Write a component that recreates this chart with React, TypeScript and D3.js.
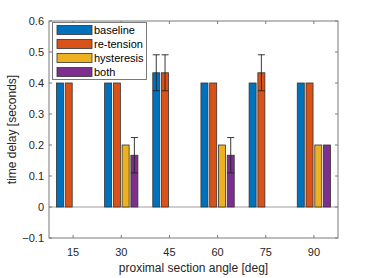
import { useEffect, useRef } from "react";
import * as d3 from "d3";

const categories = ["15", "30", "45", "60", "75", "90"];
const seriesNames = ["baseline", "re-tension", "hysteresis", "both"];
const seriesColors = ["#0072BD", "#D95319", "#EDB120", "#7E2F8E"];

const baseline = [0.4, 0.4, 0.433, 0.4, 0.4, 0.4];
const retension = [0.4, 0.4, 0.433, 0.4, 0.433, 0.4];
const hysteresis = [0, 0.2, 0, 0.2, 0, 0.2];
const both = [0, 0.167, 0, 0.167, 0, 0.2];

// error half-widths (0 = no error bar)
const baselineErr = [0, 0, 0.058, 0, 0, 0];
const retensionErr = [0, 0, 0.058, 0, 0.058, 0];
const hysteresisErr = [0, 0, 0, 0, 0, 0];
const bothErr = [0, 0.057, 0, 0.057, 0, 0];

const yTicks = [-0.1, 0, 0.1, 0.2, 0.3, 0.4, 0.5, 0.6];

const App = () => {
  const ref = useRef<SVGSVGElement>(null);
  const width = 374;
  const height = 278;

  useEffect(() => {
    if (!ref.current) return;
    const svg = d3.select(ref.current);
    svg.selectAll("*").remove();

    const left = 49;
    const right = 338;
    const top = 21;
    const bottom = 238;
    const font = "'Liberation Sans', Arial, Helvetica, sans-serif";
    const textColor = "#262626";
    const axisColor = "#7a7a7a";

    const values = [baseline, retension, hysteresis, both];
    const errs = [baselineErr, retensionErr, hysteresisErr, bothErr];

    const x = d3.scaleBand<string>().domain(categories).range([left, right]).padding(0);
    const groupWidth = x.bandwidth() * Math.min(0.8, 4 / 5.5);
    const xSub = d3
      .scaleBand<string>()
      .domain(seriesNames)
      .range([-groupWidth / 2, groupWidth / 2])
      .paddingInner(0.2)
      .paddingOuter(0.1);
    const y = d3.scaleLinear().domain([-0.1, 0.6]).range([bottom, top]);

    // plot background
    svg
      .append("rect")
      .attr("x", left)
      .attr("y", top)
      .attr("width", right - left)
      .attr("height", bottom - top)
      .attr("fill", "#fff");

    // baseline at zero (under the bars, so zero bars show as dark strokes)
    svg
      .append("line")
      .attr("x1", left)
      .attr("x2", right)
      .attr("y1", y(0))
      .attr("y2", y(0))
      .attr("stroke", "#a0a0a0")
      .attr("stroke-width", 1.2);

    // bars
    const g = svg.append("g");
    seriesNames.forEach((s, si) => {
      categories.forEach((c, ci) => {
        const v = values[si][ci];
        const cx = (x(c) as number) + x.bandwidth() / 2;
        const bx = cx + (xSub(s) as number);
        const y0 = y(0);
        const y1 = y(v);
        g.append("rect")
          .attr("x", bx)
          .attr("y", Math.min(y0, y1))
          .attr("width", xSub.bandwidth())
          .attr("height", Math.abs(y0 - y1))
          .attr("fill", seriesColors[si])
          .attr("stroke", "#333")
          .attr("stroke-width", 0.8);
      });
    });

    // error bars
    seriesNames.forEach((s, si) => {
      categories.forEach((c, ci) => {
        const e = errs[si][ci];
        if (!e) return;
        const v = values[si][ci];
        const cx = (x(c) as number) + x.bandwidth() / 2 + (xSub(s) as number) + xSub.bandwidth() / 2;
        const cap = 3.5;
        const eg = svg.append("g").attr("stroke", "#222").attr("stroke-width", 0.9);
        eg.append("line").attr("x1", cx).attr("x2", cx).attr("y1", y(v - e)).attr("y2", y(v + e));
        [v - e, v + e].forEach((t) => {
          eg.append("line")
            .attr("x1", cx - cap)
            .attr("x2", cx + cap)
            .attr("y1", y(t))
            .attr("y2", y(t));
        });
      });
    });

    // axes box
    svg
      .append("rect")
      .attr("x", left)
      .attr("y", top)
      .attr("width", right - left)
      .attr("height", bottom - top)
      .attr("fill", "none")
      .attr("stroke", axisColor)
      .attr("stroke-width", 1);

    const tickLen = 3;
    const ticks = svg.append("g").attr("stroke", axisColor).attr("stroke-width", 1);
    categories.forEach((c) => {
      const cx = (x(c) as number) + x.bandwidth() / 2;
      ticks.append("line").attr("x1", cx).attr("x2", cx).attr("y1", bottom).attr("y2", bottom - tickLen);
      ticks.append("line").attr("x1", cx).attr("x2", cx).attr("y1", top).attr("y2", top + tickLen);
      svg
        .append("text")
        .attr("x", cx)
        .attr("y", bottom + 18)
        .attr("text-anchor", "middle")
        .attr("font-family", font)
        .attr("font-size", 11)
        .attr("fill", textColor)
        .text(c);
    });
    yTicks.forEach((t) => {
      const ty = y(t);
      ticks.append("line").attr("x1", left).attr("x2", left + tickLen).attr("y1", ty).attr("y2", ty);
      ticks.append("line").attr("x1", right).attr("x2", right - tickLen).attr("y1", ty).attr("y2", ty);
      svg
        .append("text")
        .attr("x", left - 5)
        .attr("y", ty)
        .attr("dy", "0.35em")
        .attr("text-anchor", "end")
        .attr("font-family", font)
        .attr("font-size", 11)
        .attr("fill", textColor)
        .text(t === 0 ? "0" : d3.format(".1f")(t));
    });

    // axis labels
    svg
      .append("text")
      .attr("x", (left + right) / 2)
      .attr("y", 272)
      .attr("text-anchor", "middle")
      .attr("font-family", font)
      .attr("font-size", 12)
      .attr("fill", textColor)
      .text("proximal section angle [deg]");
    svg
      .append("text")
      .attr("transform", `translate(16, ${(top + bottom) / 2}) rotate(-90)`)
      .attr("text-anchor", "middle")
      .attr("font-family", font)
      .attr("font-size", 12)
      .attr("fill", textColor)
      .text("time delay [seconds]");

    // legend
    const lg = svg.append("g");
    lg.append("rect")
      .attr("x", 52.5)
      .attr("y", 22.5)
      .attr("width", 94)
      .attr("height", 57)
      .attr("fill", "#fff")
      .attr("stroke", axisColor)
      .attr("stroke-width", 1);
    seriesNames.forEach((s, i) => {
      const ry = 30 + i * 14;
      lg.append("rect")
        .attr("x", 57)
        .attr("y", ry - 4.5)
        .attr("width", 35)
        .attr("height", 9)
        .attr("fill", seriesColors[i])
        .attr("stroke", "#333")
        .attr("stroke-width", 0.8);
      lg.append("text")
        .attr("x", 94)
        .attr("y", ry)
        .attr("dy", "0.35em")
        .attr("font-family", font)
        .attr("font-size", 11)
        .attr("fill", "#000")
        .text(s);
    });
  }, []);

  return <svg ref={ref} width={width} height={height} style={{ position: "absolute", left: 0, top: 0 }}></svg>;
};

export default App;
